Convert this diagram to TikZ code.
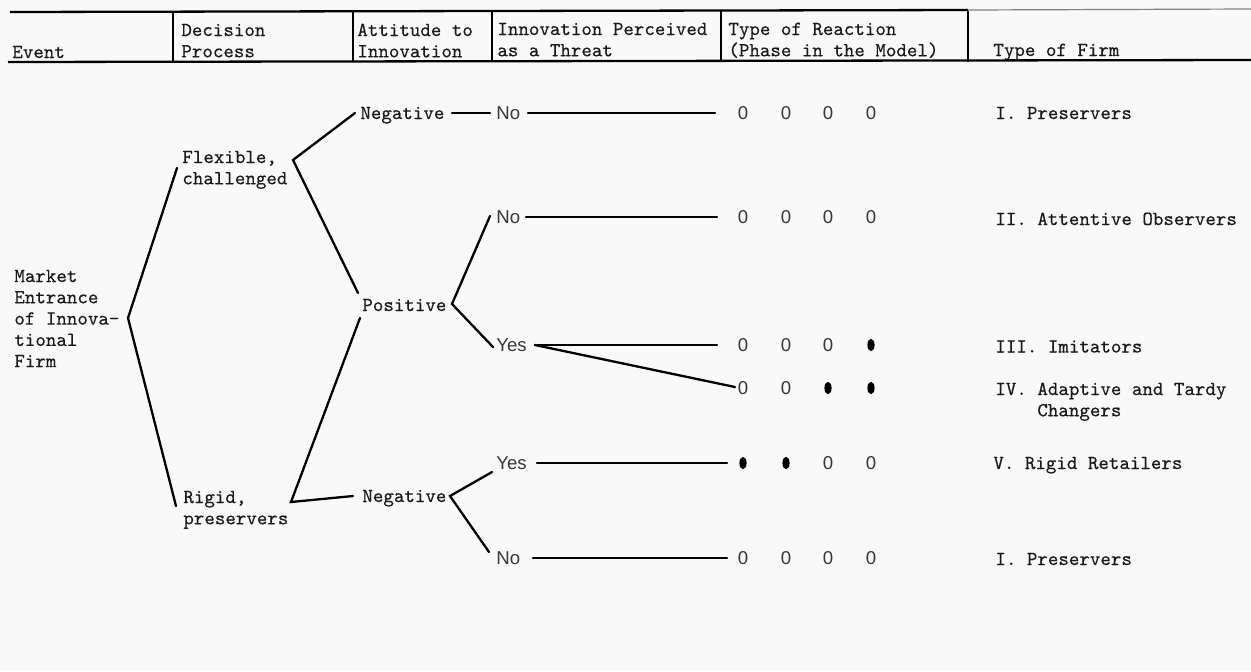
\documentclass[tikz,border=0pt]{standalone}
\usepackage{fontspec}
\setmonofont{lmmono10-regular.otf}[FakeBold=0.35]
\newfontfamily\sansf{Liberation Sans}
\usetikzlibrary{shapes.geometric}
\definecolor{bg}{RGB}{249,249,249}
\definecolor{ink}{RGB}{25,25,25}
\definecolor{inkl}{RGB}{55,55,55}
\begin{document}
\begin{tikzpicture}[x=0.5pt,y=-0.5pt,
  ln/.style={line width=1.15pt,line cap=round,draw=black},
  hl/.style={line width=1.15pt,draw=black},
  tw/.style={font=\ttfamily\fontsize{10}{10.65}\selectfont,inner sep=0pt,anchor=base west,align=left,text=ink},
  sf/.style={font=\sansf\fontsize{9.3}{10}\selectfont,inner sep=0pt,text=inkl,anchor=base west},
  zero/.style={font=\sansf\fontsize{9.3}{10}\selectfont,inner sep=0pt,text=inkl,anchor=base},
  blob/.style={ellipse,fill=black,inner sep=0pt,minimum width=3.6pt,minimum height=6.2pt}]
\fill[bg] (0,0) rectangle (1251,671);
\useasboundingbox (0,0) rectangle (1251,671);

% ---------- header rules ----------
\coordinate (tl) at (10,12); \coordinate (tm) at (968,10); \coordinate (tr) at (1251,9);
\coordinate (bl) at (8,62);  \coordinate (br) at (1251,60);
\draw[hl] (tl) -- (tm);
\draw[line width=0.6pt,draw=gray] (tm) -- (tr);
\draw[hl] (bl) -- (br);
\foreach \n/\x in {1/173,2/353,3/492,4/721,5/968}{
  \coordinate (s\n t) at (\x,11);
  \coordinate (s\n b) at (\x,62);
  \draw[hl] (s\n t) -- (s\n b);
}

% ---------- header texts (anchor = baseline of last line) ----------
\node[tw] (hEvent) at (12,58) {Event};
\node[tw] (hDec)   at (181,57.3) {Decision\\Process};
\node[tw] (hAtt)   at (357,57.3) {Attitude to\\Innovation};
\node[tw] (hInn)   at (497,56.3) {Innovation Perceived\\as a Threat};
\node[tw] (hType)  at (728,56.3) {Type of Reaction\\(Phase in the Model)};
\node[tw] (hFirm)  at (993,56) {Type of Firm};

% ---------- tree texts ----------
\node[tw] (market) at (14,367.2) {Market\\Entrance\\of Innova-\\tional\\Firm};
\node[tw] (flex)   at (182,184.3) {Flexible,\\challenged};
\node[tw] (rigid)  at (183,524.3) {Rigid,\\preservers};
\node[tw] (negA)   at (360,119) {Negative};
\node[tw] (pos)    at (362,311) {Positive};
\node[tw] (negB)   at (362,502) {Negative};

\node[sf] (noA)  at (496,119.5) {No};
\node[sf] (noB)  at (496,223.5) {No};
\node[sf] (yesC) at (496,351.5) {Yes};
\node[sf] (yesE) at (496,469.5) {Yes};
\node[sf] (noF)  at (496,564.5) {No};

% ---------- tree coordinates ----------
\coordinate (root) at (128,318);
\coordinate (flexEnd) at (177,168);
\coordinate (rigidEnd) at (176,506);
\coordinate (flexB) at (293,160);
\coordinate (negAEnd) at (355,113);
\coordinate (posTop) at (358,293);
\coordinate (posBot) at (360,318);
\coordinate (rigidB) at (291,502);
\coordinate (negBEnd) at (353,496);
\coordinate (posB) at (452,304);
\coordinate (noBEnd) at (490,216);
\coordinate (yesCEnd) at (493,347);
\coordinate (negB2) at (450,496);
\coordinate (yesEEnd) at (492,472);
\coordinate (noFEnd) at (489,552);
\coordinate (negAOut) at (452,113);
\coordinate (noAIn) at (490,113);

\draw[ln] (flexEnd) -- (root) -- (rigidEnd);
\draw[ln] (negAEnd) -- (flexB) -- (posTop);
\draw[ln] (posBot) -- (rigidB) -- (negBEnd);
\draw[ln] (noBEnd) -- (posB) -- (yesCEnd);
\draw[ln] (yesEEnd) -- (negB2) -- (noFEnd);
\draw[ln] (negAOut) -- (noAIn);

% ---------- row lines ----------
\coordinate (r1a) at (528,113); \coordinate (r1b) at (715,113);
\coordinate (r2a) at (526,217); \coordinate (r2b) at (717,217);
\coordinate (r3a) at (535,345); \coordinate (r3b) at (717,345); \coordinate (r4b) at (735,387);
\coordinate (r5a) at (537,463); \coordinate (r5b) at (727,463);
\coordinate (r6a) at (533,558); \coordinate (r6b) at (727,558);
\draw[ln] (r1a) -- (r1b);
\draw[ln] (r2a) -- (r2b);
\draw[ln] (r3a) -- (r3b);
\draw[ln] (r3a) -- (r4b);
\draw[ln] (r5a) -- (r5b);
\draw[ln] (r6a) -- (r6b);

% ---------- phase marks ----------
% row I
\node[zero] (z11) at (743,119.5) {0}; \node[zero] (z12) at (786,119.5) {0};
\node[zero] (z13) at (828,119.5) {0}; \node[zero] (z14) at (871,119.5) {0};
% row II
\node[zero] (z21) at (743,223.5) {0}; \node[zero] (z22) at (786,223.5) {0};
\node[zero] (z23) at (828,223.5) {0}; \node[zero] (z24) at (871,223.5) {0};
% row III
\node[zero] (z31) at (743,351.5) {0}; \node[zero] (z32) at (786,351.5) {0};
\node[zero] (z33) at (828,351.5) {0}; \node[blob] (z34) at (871,345) {};
% row IV
\node[zero] (z41) at (743,394) {0}; \node[zero] (z42) at (786,394) {0};
\node[blob] (z43) at (828,388) {}; \node[blob] (z44) at (871,388) {};
% row V
\node[blob] (z51) at (743,463) {}; \node[blob] (z52) at (786,463) {};
\node[zero] (z53) at (828,469.5) {0}; \node[zero] (z54) at (871,469.5) {0};
% row VI
\node[zero] (z61) at (743,564.5) {0}; \node[zero] (z62) at (786,564.5) {0};
\node[zero] (z63) at (828,564.5) {0}; \node[zero] (z64) at (871,564.5) {0};

% ---------- firm types ----------
\node[tw] (f1) at (995,119) {I. Preservers};
\node[tw] (f2) at (995,225) {II. Attentive Observers};
\node[tw] (f3) at (995,352.5) {III. Imitators};
\node[tw] (f4) at (995,416.3) {IV. Adaptive and Tardy\\\phantom{IV. }Changers};
\node[tw] (f5) at (993,469) {V. Rigid Retailers};
\node[tw] (f6) at (995,565) {I. Preservers};
\end{tikzpicture}
\end{document}
